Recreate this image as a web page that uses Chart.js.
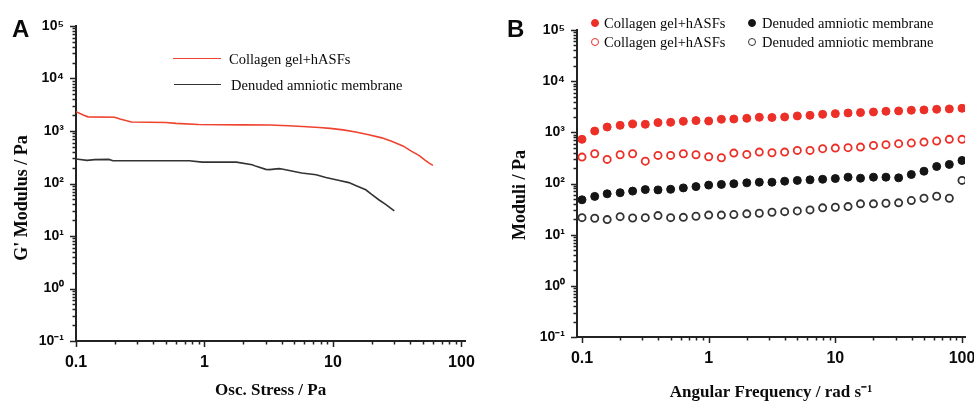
<!DOCTYPE html>
<html><head><meta charset="utf-8">
<script src="https://cdn.jsdelivr.net/npm/chart.js@4.4.1/dist/chart.umd.min.js"></script>
<style>
html,body{margin:0;padding:0;background:#fff;overflow:hidden;width:974px;height:401px;}
#wrap{position:relative;width:974px;height:401px;overflow:hidden;}
canvas{position:absolute;top:0;}
.t{position:absolute;white-space:nowrap;color:#0a0a0a;}
.panel{font:bold 24px "Liberation Sans",Arial,sans-serif;line-height:24px;}
.leg{font:14.5px "Liberation Serif","Times New Roman",serif;line-height:16px;}
.ytitle{font:bold 18px "Liberation Serif","Times New Roman",serif;line-height:20px;transform:translate(-50%,-50%) rotate(-90deg);}
.swatch{position:absolute;height:0;}
.dot{position:absolute;width:8px;height:8px;border-radius:50%;box-sizing:border-box;}
</style></head>
<body><div id="wrap">
<canvas id="cA" width="487" height="403" style="left:0"></canvas>
<canvas id="cB" width="500" height="403" style="left:490px"></canvas>
<div class="t panel" style="left:12px;top:17px;">A</div>
<div class="t panel" style="left:507px;top:17px;">B</div>
<div class="t ytitle" style="left:21px;top:198px;">G' Modulus / Pa</div>
<div class="t ytitle" style="left:519px;top:195px;">Moduli / Pa</div>
</div>
<script>
// ---------- Panel A data (oscillatory stress sweep) ----------
const stressCollagen = [0.1,0.115,0.124,0.2,0.22,0.27,0.5,0.6,0.9,2,3.2,4.5,5.8,7.8,9.5,12,15,19,24,28.6,35,41,47,52,56,60];
const gCollagen      = [2340,2000,1860,1830,1700,1480,1450,1400,1330,1310,1300,1260,1215,1165,1120,1050,960,850,740,635,520,410,340,280,245,221];
const stressMembrane = [0.1,0.122,0.14,0.18,0.194,0.5,0.76,0.96,1.77,2.35,2.53,3.0,3.2,3.8,4.0,5.7,7.4,8.8,11,13.3,15,18,20,23,25.7,30];
const gMembrane      = [293,276,285,288,272,272,272,255,255,228,212,186,184,192,189,158,147,130,115,104,92,76,62,48,40,30];

// ---------- Panel B data (frequency sweep) ----------
const freq = [0.1,0.126,0.158,0.2,0.251,0.316,0.398,0.501,0.631,0.794,1,1.26,1.58,2,2.51,3.16,3.98,5.01,6.31,7.94,10,12.6,15.8,20,25.1,31.6,39.8,50.1,63.1,79.4,100];
const storageCollagen  = [730,1060,1270,1370,1455,1435,1550,1570,1640,1695,1665,1800,1820,1880,1970,1950,2000,2090,2150,2250,2320,2390,2430,2500,2580,2620,2700,2740,2820,2870,2950];
const lossCollagen     = [328,382,296,365,382,273,354,354,382,365,334,319,393,370,411,400,411,444,444,479,492,501,515,556,574,600,617,645,675,730,730];
const storageMembrane  = [48,56,63,66,71,76,75,77,82,87,93,96,99,103,106,106,111,115,118,121,125,133,127,133,133,129,150,174,215,236,282];
const lossMembrane     = [21.5,20.9,19.7,22.5,21.2,21.5,23.6,21.5,21.8,22.9,24.1,24.1,24.7,25.5,26.2,27.4,28.2,29.1,30.5,33.4,34.3,35.4,40,40,41.1,41.9,46.4,51.5,56.4,51.5,115];

// ---------- labels / ticks ----------
const seriesNames = ['Collagen gel+hASFs','Denuded amniotic membrane'];
const xMajor = [0.1,1,10,100];
const xTickLabels = ['0.1','1','10','100'];
const yMajor = [0.1,1,10,100,1000,10000,100000];
const yTickLabels = ['10\u207B\u00B9','10\u2070','10\u00B9','10\u00B2','10\u00B3','10\u2074','10\u2075'];
const xTitleA = 'Osc. Stress / Pa';
const xTitleB = 'Angular Frequency / rad s\u207B\u00B9';

const RED = '#ec2f27', RED_LINE = '#f0432f', BLACK = '#151515';

function zip(xs, ys){ return xs.map((x,i)=>({x:x, y:ys[i]})); }
function isMajor(v, majors){ return majors.some(m => Math.abs(m - v)/m < 1e-9); }
function logTicks(majors, min, max){
  const out=[];
  majors.forEach(m=>{ for(let k=1;k<10;k++){ const v=+(m*k).toPrecision(8); if(v>=min*(1-1e-9) && v<=max) out.push(v);} });
  return out;
}
function labelFor(majors, labels){
  return function(value){ const i = majors.findIndex(m => Math.abs(m - value)/m < 1e-9); return i>=0 ? labels[i] : ''; };
}

const tickMarks = {
  id:'tickMarks',
  afterDraw(chart){
    const ctx = chart.ctx, xs = chart.scales.x, ys = chart.scales.y;
    ctx.save(); ctx.strokeStyle = '#222'; ctx.lineWidth = 1.5; ctx.beginPath();
    xs.ticks.forEach(t=>{ const px = Math.round(xs.getPixelForValue(t.value))+0.5; const len = isMajor(t.value,xMajor)?6:3.5; ctx.moveTo(px, xs.top); ctx.lineTo(px, xs.top+len); });
    ys.ticks.forEach(t=>{ const py = Math.round(ys.getPixelForValue(t.value))+0.5; const len = isMajor(t.value,yMajor)?6:3.5; ctx.moveTo(ys.right, py); ctx.lineTo(ys.right-len, py); });
    ctx.stroke(); ctx.restore();
  }
};

function axes(xMin, xMax, yMin, yMax, yWidth, xHeight, xTitle, titlePad){
  const tickFontX = {family:'"Liberation Sans", Arial, sans-serif', weight:'bold', size:16};
  const tickFontY = {family:'"Liberation Sans", Arial, sans-serif', weight:'bold', size:14};
  return {
    x:{ type:'logarithmic', min:xMin, max:xMax,
        afterBuildTicks: a => { a.ticks = logTicks(xMajor, xMin, xMax).map(v=>({value:v})); },
        afterFit: s => { s.height = xHeight; },
        ticks:{ autoSkip:false, maxRotation:0, minRotation:0, padding:12, font:tickFontX, color:'#0a0a0a', callback: labelFor(xMajor, xTickLabels) },
        grid:{ display:true, drawOnChartArea:false, drawTicks:false },
        border:{ display:true, color:'#222', width:2 },
        title:{ display:true, text:xTitle, color:'#0a0a0a', font:{family:'"Liberation Serif","Times New Roman",serif', weight:'bold', size:17}, padding:{top:0,bottom:titlePad} } },
    y:{ type:'logarithmic', min:yMin, max:yMax,
        afterBuildTicks: a => { a.ticks = logTicks(yMajor, yMin, yMax).map(v=>({value:v})); },
        afterFit: s => { s.width = yWidth; },
        ticks:{ autoSkip:false, padding:12, font:tickFontY, color:'#0a0a0a', callback: labelFor(yMajor, yTickLabels) },
        grid:{ display:true, drawOnChartArea:false, drawTicks:false },
        border:{ display:true, color:'#222', width:2 } }
  };
}

new Chart(document.getElementById('cA'), {
  type:'scatter',
  data:{ datasets:[
    { label:seriesNames[0], data:zip(stressCollagen, gCollagen), showLine:true, pointRadius:0, borderColor:RED_LINE, borderWidth:1.6, tension:0 },
    { label:seriesNames[1], data:zip(stressMembrane, gMembrane), showLine:true, pointRadius:0, borderColor:'#333', borderWidth:1.6, tension:0 }
  ]},
  options:{ responsive:false, animation:false, devicePixelRatio:1,
    layout:{ padding:{ top:26, right:20, left:0, bottom:0 } },
    plugins:{ legend:{display:false}, tooltip:{enabled:false} },
    scales: axes(0.1, 107, 0.1, 100000, 76, 62, xTitleA, 2) },
  plugins:[tickMarks]
});

new Chart(document.getElementById('cB'), {
  type:'scatter',
  data:{ datasets:[
    { label:seriesNames[0], data:zip(freq, storageCollagen), pointRadius:4, pointBackgroundColor:RED, pointBorderColor:RED, pointBorderWidth:1 },
    { label:seriesNames[0], data:zip(freq, lossCollagen), pointRadius:3.6, pointBackgroundColor:'#fff', pointBorderColor:RED, pointBorderWidth:1.8 },
    { label:seriesNames[1], data:zip(freq, storageMembrane), pointRadius:4, pointBackgroundColor:BLACK, pointBorderColor:BLACK, pointBorderWidth:1 },
    { label:seriesNames[1], data:zip(freq, lossMembrane), pointRadius:3.6, pointBackgroundColor:'#fff', pointBorderColor:'#333', pointBorderWidth:1.8 }
  ]},
  options:{ responsive:false, animation:false, devicePixelRatio:1,
    layout:{ padding:{ top:30, right:25, left:0, bottom:0 } },
    plugins:{ legend:{display:false}, tooltip:{enabled:false} },
    scales: axes(0.0913, 105.6, 0.1, 100000, 87, 66, xTitleB, 0) },
  plugins:[tickMarks]
});

// ---------- HTML legends ----------
const wrap = document.getElementById('wrap');
function addText(txt, left, top){ const d=document.createElement('div'); d.className='t leg'; d.style.left=left+'px'; d.style.top=top+'px'; d.textContent=txt; wrap.appendChild(d); }
function addLine(color, left, top, w){ const d=document.createElement('div'); d.className='swatch'; d.style.left=left+'px'; d.style.top=top+'px'; d.style.width=w+'px'; d.style.borderTop='1.8px solid '+color; wrap.appendChild(d); }
function addDot(color, filled, cx, cy){ const d=document.createElement('div'); d.className='dot'; d.style.left=(cx-4)+'px'; d.style.top=(cy-4)+'px'; d.style.background=filled?color:'#fff'; d.style.border=(filled?'1px':'1.6px')+' solid '+color; wrap.appendChild(d); }
// Panel A legend
addLine(RED_LINE, 173, 58, 48); addText(seriesNames[0], 229, 51);
addLine('#333', 174, 84, 47);   addText(seriesNames[1], 231, 77);
// Panel B legend
addDot(RED, true, 595, 23);  addText(seriesNames[0], 604, 15);
addDot(BLACK, true, 752, 23); addText(seriesNames[1], 762, 15);
addDot(RED, false, 595, 42); addText(seriesNames[0], 604, 34);
addDot('#333', false, 752, 42); addText(seriesNames[1], 762, 34);
</script>
</body></html>
